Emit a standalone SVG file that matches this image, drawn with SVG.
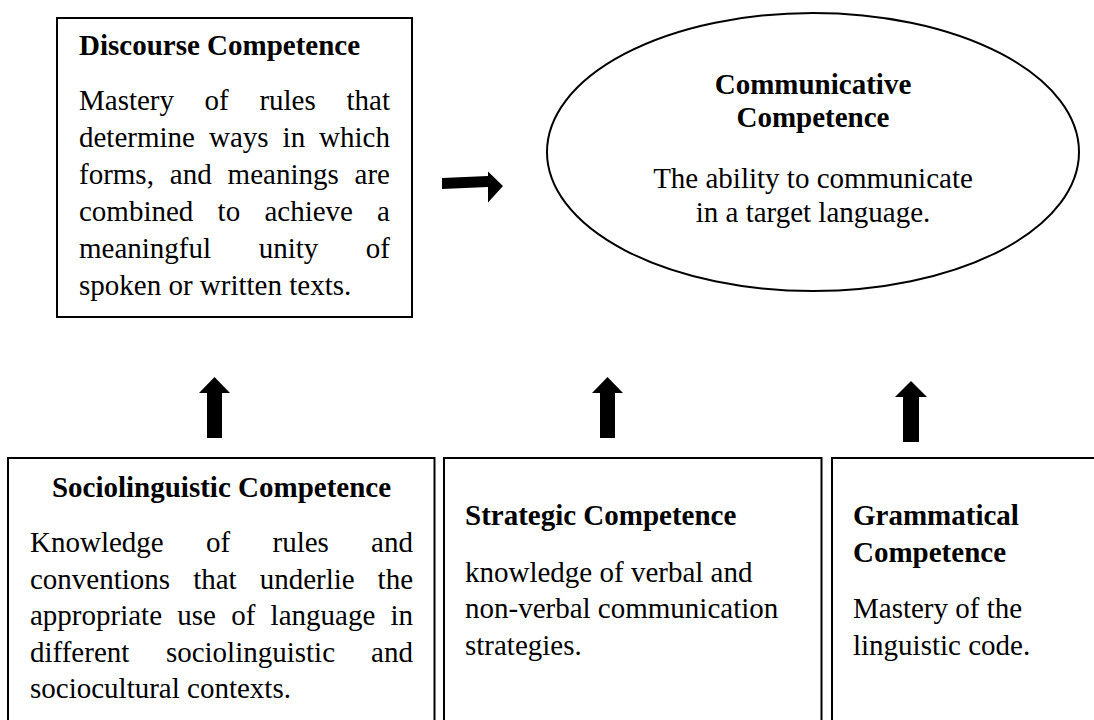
<svg xmlns="http://www.w3.org/2000/svg" width="1094" height="720" viewBox="0 0 1094 720">
  <style>
    .box { fill: #ffffff; stroke: #000000; stroke-width: 2; }
    .arrow { fill: #000000; stroke: none; }
    text { font-family: "Liberation Serif", "Times New Roman", serif; font-size: 29px; fill: #000000; }
    .title { font-weight: bold; }
    .mid { text-anchor: middle; }
  </style>
  <rect x="0" y="0" width="1094" height="720" fill="#ffffff"/>

  <!-- connectors: block arrows -->
  <g id="connectors">
    <polygon class="arrow" points="442,178 488,176 488,171.5 503,186 488,202.5 488,187 442,189"/>
    <polygon class="arrow" points="214.5,377 230,393 222,393 222,438 207,438 207,393 199,393"/>
    <polygon class="arrow" points="607.5,377 623,393 615,393 615,438 600,438 600,393 592,393"/>
    <polygon class="arrow" points="911,381 927,397 919,397 919,442 903,442 903,397 895,397"/>
  </g>

  <!-- Discourse Competence -->
  <g id="discourse">
    <rect class="box" x="57" y="18" width="355" height="299"/>
    <text class="title" x="79" y="55">Discourse Competence</text>
    <text y="110"><tspan x="79">Mastery</tspan><tspan x="204.6">of</tspan><tspan x="259.4">rules</tspan><tspan x="346.5">that</tspan></text>
    <text y="147"><tspan x="79">determine</tspan><tspan x="209">ways</tspan><tspan x="282.6">in</tspan><tspan x="319.1">which</tspan></text>
    <text y="184"><tspan x="79">forms,</tspan><tspan x="169.8">and</tspan><tspan x="227.6">meanings</tspan><tspan x="354.6">are</tspan></text>
    <text y="221"><tspan x="79">combined</tspan><tspan x="217.6">to</tspan><tspan x="264.4">achieve</tspan><tspan x="377.1">a</tspan></text>
    <text y="258"><tspan x="79">meaningful</tspan><tspan x="258.7">unity</tspan><tspan x="365.8">of</tspan></text>
    <text x="79" y="295">spoken or written texts.</text>
  </g>

  <!-- Communicative Competence -->
  <g id="communicative">
    <ellipse class="box" cx="813" cy="152" rx="266" ry="139"/>
    <text class="title mid" x="813" y="94">Communicative</text>
    <text class="title mid" x="813" y="127">Competence</text>
    <text class="mid" x="813" y="188">The ability to communicate</text>
    <text class="mid" x="813" y="222">in a target language.</text>
  </g>

  <!-- Sociolinguistic Competence -->
  <g id="sociolinguistic">
    <rect class="box" x="8" y="458" width="426.5" height="280"/>
    <text class="title mid" x="221.5" y="497">Sociolinguistic Competence</text>
    <text y="552"><tspan x="30">Knowledge</tspan><tspan x="206">of</tspan><tspan x="272.5">rules</tspan><tspan x="371.1">and</tspan></text>
    <text y="588.6"><tspan x="30">conventions</tspan><tspan x="193.2">that</tspan><tspan x="259.7">underlie</tspan><tspan x="377.6">the</tspan></text>
    <text y="625.2"><tspan x="30">appropriate</tspan><tspan x="177.3">use</tspan><tspan x="231.2">of</tspan><tspan x="270.6">language</tspan><tspan x="390.4">in</tspan></text>
    <text y="661.8"><tspan x="30">different</tspan><tspan x="165.9">sociolinguistic</tspan><tspan x="371.1">and</tspan></text>
    <text x="30" y="698.4">sociocultural contexts.</text>
  </g>

  <!-- Strategic Competence -->
  <g id="strategic">
    <rect class="box" x="444" y="458" width="377.5" height="280"/>
    <text class="title" x="465" y="525">Strategic Competence</text>
    <text x="465" y="582">knowledge of verbal and</text>
    <text x="465" y="618">non-verbal communication</text>
    <text x="465" y="655">strategies.</text>
  </g>

  <!-- Grammatical Competence -->
  <g id="grammatical">
    <rect class="box" x="832" y="458" width="280" height="280"/>
    <text class="title" x="853" y="525">Grammatical</text>
    <text class="title" x="853" y="562">Competence</text>
    <text x="853" y="618">Mastery of the</text>
    <text x="853" y="655">linguistic code.</text>
  </g>
</svg>
